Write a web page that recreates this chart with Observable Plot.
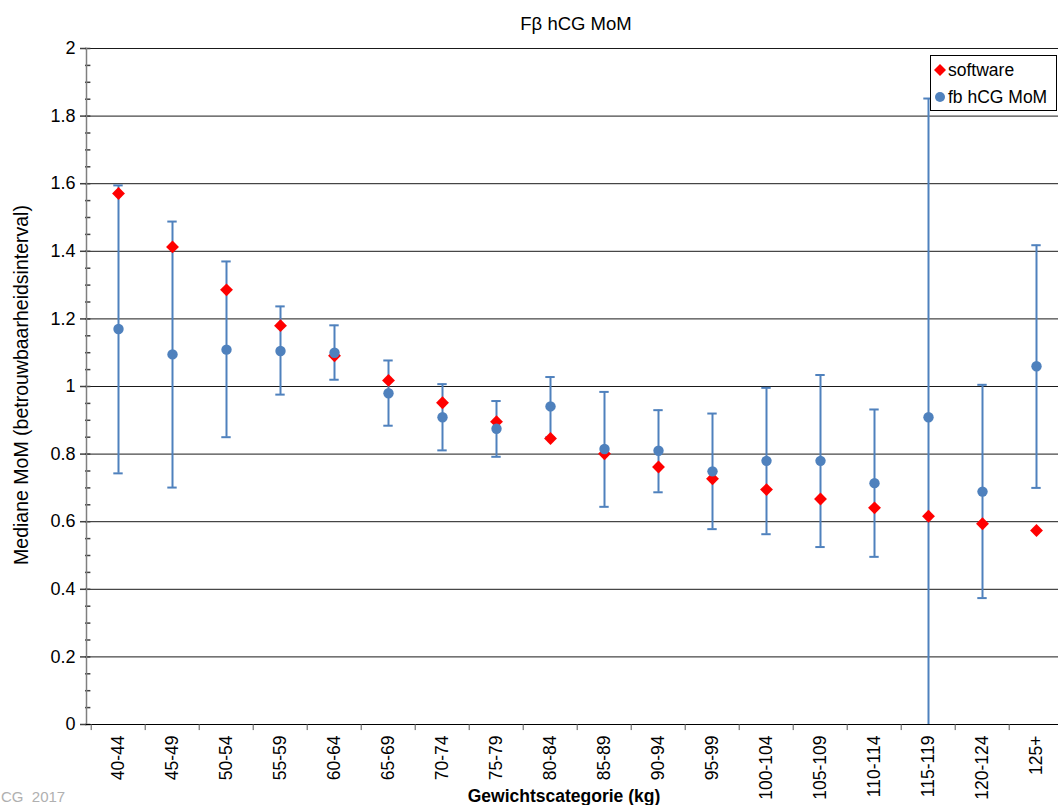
<!DOCTYPE html>
<html>
<head>
<meta charset="utf-8">
<script src="https://cdn.jsdelivr.net/npm/d3@7"></script>
<script src="https://cdn.jsdelivr.net/npm/@observablehq/plot@0.6"></script>
<style>
  html, body { margin: 0; padding: 0; background: #fff; overflow: hidden; }
  #wrap { position: relative; width: 1058px; height: 805px; font-family: "Liberation Sans", Arial, sans-serif; color: #000; }
  #wrap > svg { position: absolute; left: 0; top: 0; }
  .title { position: absolute; left: 0; width: 1152px; top: 13px; text-align: center; font-size: 18.5px; }
  .ylabel { position: absolute; left: 21px; top: 385px; font-size: 19.5px; white-space: nowrap; transform: translate(-50%, -50%) rotate(-90deg); }
  .xlabel { position: absolute; left: 0; width: 1128px; top: 786px; text-align: center; font-size: 17.5px; font-weight: bold; }
  .footer { position: absolute; left: 1px; top: 788px; font-size: 15px; color: #b0b0b0; }
  .legend { position: absolute; left: 930px; top: 55px; width: 125px; height: 54px; border: 1px solid #000; background: #fff; font-size: 17.5px; }
  .legend .row { position: absolute; left: 2px; height: 22px; display: flex; align-items: center; white-space: nowrap; }
  .legend svg { margin-right: 1px; }
</style>
</head>
<body>
<div id="wrap"></div>
<script>
const categories = ["40-44","45-49","50-54","55-59","60-64","65-69","70-74","75-79","80-84","85-89","90-94","95-99","100-104","105-109","110-114","115-119","120-124","125+"];
const software = [1.571,1.413,1.286,1.180,1.091,1.018,0.952,0.896,0.846,0.801,0.762,0.727,0.695,0.667,0.641,0.616,0.594,0.574];
const fbMedian = [1.170,1.095,1.109,1.105,1.100,0.980,0.909,0.875,0.941,0.815,0.810,0.749,0.780,0.780,0.714,0.909,0.689,1.060];
const fbLower  = [0.743,0.701,0.850,0.976,1.020,0.884,0.811,0.792,0.850,0.644,0.687,0.578,0.563,0.525,0.496,0.000,0.374,0.700];
const fbUpper  = [1.595,1.488,1.370,1.237,1.181,1.077,1.007,0.957,1.028,0.984,0.930,0.920,0.996,1.034,0.932,1.852,1.005,1.418];
const yTicks = [0,0.2,0.4,0.6,0.8,1,1.2,1.4,1.6,1.8,2];
const yMinorTicks = d3.range(0, 41).map(i => i / 20);

const rows = categories.map((c, i) => ({cat: c, software: software[i], median: fbMedian[i], lower: fbLower[i], upper: fbUpper[i]}));
const blue = "#4f81bd";
const xStart = 86, step = 54.61;
const xEnd = xStart + categories.length * step;

const chart = Plot.plot({
  width: 1058,
  height: 805,
  marginTop: 48,
  marginBottom: 81,
  marginLeft: 86,
  marginRight: 0,
  style: {fontFamily: "Liberation Sans, Arial, sans-serif", fontSize: "17px", background: "transparent", color: "#000"},
  x: {type: "band", domain: categories, range: [xStart, xEnd], padding: 0},
  y: {domain: [0, 2], range: [724, 48]},
  marks: [
    Plot.ruleY(yTicks.filter(d => d > 0), {stroke: "#1a1a1a", strokeWidth: 1}),
    Plot.tickY(yMinorTicks, {x: () => categories[0], y: d => d, dx: -step / 2 - 3, insetLeft: step / 2 - 3, insetRight: step / 2 - 3, stroke: "#404040", strokeWidth: 1.5, clip: false}),
    Plot.frame({anchor: "left", stroke: "#7f7f7f", strokeWidth: 1.5}),
    Plot.axisY({ticks: yTicks, tickSize: 6, tickPadding: 5, stroke: "#404040", strokeWidth: 1.5, tickFormat: d => String(+d.toFixed(1)), fontSize: 18, label: null}),
    Plot.ruleY([0], {stroke: "#000", strokeWidth: 1}),
    Plot.ruleX(categories, {x: d => d, dx: -step / 2, y1: 0, y2: -0.018, stroke: "#555", clip: false}),
    Plot.axisX({tickSize: 0, tickRotate: -90, tickPadding: 11, fontSize: 17.5, label: null}),
    Plot.ruleX(rows, {x: "cat", y1: "lower", y2: "upper", stroke: blue, strokeWidth: 2}),
    Plot.tickY(rows, {x: "cat", y: "upper", stroke: blue, strokeWidth: 2, insetLeft: step / 2 - 5, insetRight: step / 2 - 5}),
    Plot.tickY(rows.filter(d => d.lower > 0), {x: "cat", y: "lower", stroke: blue, strokeWidth: 2, insetLeft: step / 2 - 5, insetRight: step / 2 - 5}),
    Plot.dot(rows, {x: "cat", y: "software", symbol: "diamond2", r: 5.8, fill: "#ff0000", stroke: "none"}),
    Plot.dot(rows, {x: "cat", y: "median", r: 5.2, fill: blue, stroke: "none"})
  ]
});

const wrap = document.getElementById("wrap");
wrap.appendChild(chart);

function addDiv(cls, html) {
  const d = document.createElement("div");
  d.className = cls;
  d.innerHTML = html;
  wrap.appendChild(d);
  return d;
}
addDiv("title", "Fβ hCG MoM");
addDiv("ylabel", "Mediane MoM (betrouwbaarheidsinterval)");
addDiv("xlabel", "Gewichtscategorie (kg)");
addDiv("footer", "CG&nbsp;&nbsp;2017");
addDiv("legend",
  '<div class="row" style="top:3px"><svg width="14" height="14"><path d="M7,1L13,7L7,13L1,7Z" fill="#ff0000"/></svg>software</div>' +
  '<div class="row" style="top:30px"><svg width="14" height="14"><circle cx="7" cy="7" r="5" fill="' + blue + '"/></svg>fb hCG MoM</div>');
</script>
</body>
</html>
